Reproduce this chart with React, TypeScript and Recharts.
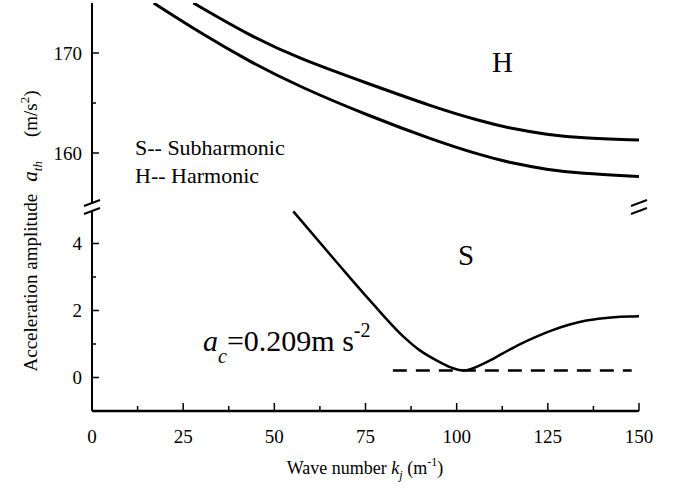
import React from 'react';
import { LineChart, Line, XAxis, YAxis } from 'recharts';

// wave number k (1/m) and acceleration amplitude (m/s^2)
const harmonicLowerK = [16.9, 29.7, 43.4, 57.1, 75.3, 93.6, 106.4, 115.5, 124.7, 133.8, 150];
const harmonicLowerA = [175, 172.0, 169.1, 166.6, 163.8, 161.3, 159.8, 158.95, 158.35, 157.95, 157.65];

const harmonicUpperK = [27.8, 43.4, 57.1, 75.3, 93.6, 106.4, 115.5, 124.7, 133.8, 150];
const harmonicUpperA = [175, 171.7, 169.4, 167.0, 164.6, 163.2, 162.4, 161.85, 161.5, 161.3];

const subK = [55.2, 67.1, 76.2, 85.4, 89.9, 94.5, 98.2, 101.8, 108.2, 112.8, 117.3, 121.9, 126.5, 131, 135.6, 140.2, 147.1, 150];
const subA = [4.96, 3.44, 2.3, 1.22, 0.81, 0.51, 0.31, 0.209, 0.46, 0.73, 0.99, 1.22, 1.42, 1.58, 1.7, 1.77, 1.82, 1.83];

const criticalK = [82.5, 148];
const criticalA = [0.209, 0.209];

const kTicks = [0, 12.5, 25, 37.5, 50, 62.5, 75, 87.5, 100, 112.5, 125, 137.5, 150];
const upperTicks = [160, 165, 170];
const lowerTicks = [0, 1, 2, 3, 4];

const toRows = (ks: number[], vs: number[]) => ks.map((k, i) => ({ k, v: vs[i] }));

const FONT = '"Liberation Serif", "Times New Roman", serif';
const TICK_FS = 19;

const XBottomTick = (props: any) => {
  const { x, y, payload } = props;
  const axisY = y - 2;
  const major = payload.value % 25 === 0;
  return (
    <g>
      <line x1={x} x2={x} y1={axisY} y2={axisY - (major ? 8 : 5)} stroke="#000" strokeWidth={1.5} />
      {major && (
        <text x={x} y={axisY + 32} textAnchor="middle" fontSize={TICK_FS} style={{ fontFamily: FONT }} fill="#000">
          {payload.value}
        </text>
      )}
    </g>
  );
};

const XTopTick = (props: any) => {
  const { x, y, payload } = props;
  const major = payload.value % 25 === 0;
  return <line x1={x} x2={x} y1={y} y2={y + (major ? 8 : 5)} stroke="#000" strokeWidth={1.5} />;
};

const makeLeftTick = (labelled: number[]) => (props: any) => {
  const { x, y, payload } = props;
  const axisX = x + 9;
  const major = labelled.includes(payload.value);
  return (
    <g>
      <line x1={axisX} x2={axisX + (major ? 7 : 4)} y1={y} y2={y} stroke="#000" strokeWidth={1.5} />
      {major && (
        <text x={axisX - 10} y={y} dy="0.35em" textAnchor="end" fontSize={TICK_FS} style={{ fontFamily: FONT }} fill="#000">
          {payload.value}
        </text>
      )}
    </g>
  );
};

const makeRightTick = (labelled: number[]) => (props: any) => {
  const { x, y, payload } = props;
  const major = labelled.includes(payload.value);
  return <line x1={x} x2={x - (major ? 7 : 4)} y1={y} y2={y} stroke="#000" strokeWidth={1.5} />;
};

const UpperLeftTick = makeLeftTick([160, 170]);
const UpperRightTick = makeRightTick([160, 170]);
const LowerLeftTick = makeLeftTick([0, 2, 4]);
const LowerRightTick = makeRightTick([0, 2, 4]);

const axisStyle = { stroke: '#000', strokeWidth: 2 };

const BreakMark = ({ x, y }: { x: number; y: number }) => (
  <line x1={x - 8} y1={y + 3} x2={x + 8} y2={y - 3} stroke="#000" strokeWidth={2} />
);

export default function App() {
  return (
    <div style={{ position: 'absolute', left: 0, top: 0, width: 681, height: 491, background: '#fff' }}>
      <div style={{ position: 'absolute', left: 0, top: 0 }}>
        <LineChart width={681} height={206} margin={{ top: 3, right: 42, bottom: 3, left: 0 }}>
          <XAxis
            xAxisId="k"
            type="number"
            dataKey="k"
            orientation="top"
            domain={[0, 150]}
            ticks={kTicks}
            interval={0}
            height={0}
            tickSize={0}
            tickMargin={0}
            tickLine={false}
            axisLine={{ stroke: '#000', strokeWidth: 2.5 }}
            tick={<XTopTick />}
          />
          <YAxis
            yAxisId="l"
            type="number"
            domain={[155, 175]}
            ticks={upperTicks}
            interval={0}
            width={92}
            tickSize={0}
            tickMargin={9}
            tickLine={false}
            allowDataOverflow
            axisLine={axisStyle}
            tick={<UpperLeftTick />}
          />
          <YAxis
            yAxisId="r"
            orientation="right"
            type="number"
            domain={[155, 175]}
            ticks={upperTicks}
            interval={0}
            width={0}
            tickSize={0}
            tickMargin={0}
            tickLine={false}
            allowDataOverflow
            axisLine={axisStyle}
            tick={<UpperRightTick />}
          />
          <Line xAxisId="k" yAxisId="l" data={toRows(harmonicLowerK, harmonicLowerA)} dataKey="v" type="basis"
            stroke="#000" strokeWidth={3} dot={false} isAnimationActive={false} />
          <Line xAxisId="k" yAxisId="l" data={toRows(harmonicUpperK, harmonicUpperA)} dataKey="v" type="basis"
            stroke="#000" strokeWidth={3} dot={false} isAnimationActive={false} />
        </LineChart>
      </div>

      <div style={{ position: 'absolute', left: 0, top: 206 }}>
        <LineChart width={681} height={285} margin={{ top: 4, right: 42, bottom: 0, left: 0 }}>
          <XAxis
            xAxisId="k"
            type="number"
            dataKey="k"
            domain={[0, 150]}
            ticks={kTicks}
            interval={0}
            height={80}
            tickSize={0}
            tickMargin={2}
            tickLine={false}
            axisLine={{ stroke: '#000', strokeWidth: 2.5 }}
            tick={<XBottomTick />}
          />
          <YAxis
            yAxisId="l"
            type="number"
            domain={[-1, 5]}
            ticks={lowerTicks}
            interval={0}
            width={92}
            tickSize={0}
            tickMargin={9}
            tickLine={false}
            allowDataOverflow
            axisLine={axisStyle}
            tick={<LowerLeftTick />}
          />
          <YAxis
            yAxisId="r"
            orientation="right"
            type="number"
            domain={[-1, 5]}
            ticks={lowerTicks}
            interval={0}
            width={0}
            tickSize={0}
            tickMargin={0}
            tickLine={false}
            allowDataOverflow
            axisLine={axisStyle}
            tick={<LowerRightTick />}
          />
          <Line xAxisId="k" yAxisId="l" data={toRows(subK, subA)} dataKey="v" type="monotone"
            stroke="#000" strokeWidth={2.5} dot={false} isAnimationActive={false} />
          <Line xAxisId="k" yAxisId="l" data={toRows(criticalK, criticalA)} dataKey="v" type="linear"
            stroke="#000" strokeWidth={2.5} strokeDasharray="14 9" dot={false} isAnimationActive={false} />
        </LineChart>
      </div>

      {/* titles, annotations and the axis break marks */}
      <svg width={681} height={491} style={{ position: 'absolute', left: 0, top: 0, pointerEvents: 'none', fontFamily: FONT }}
        fill="#000">
        <BreakMark x={92} y={203} />
        <BreakMark x={92} y={211} />
        <BreakMark x={639} y={203} />
        <BreakMark x={639} y={211} />

        <text transform="translate(37, 231) rotate(-90)" textAnchor="middle" fontSize={19}>
          <tspan>Acceleration amplitude</tspan>
          <tspan dx={12} fontStyle="italic" fontSize={21}>a</tspan>
          <tspan dy={5} fontStyle="italic" fontSize={13}>th</tspan>
          <tspan dy={-5} dx={24}>(m/s</tspan>
          <tspan dy={-8} fontSize={13}>2</tspan>
          <tspan dy={8}>)</tspan>
        </text>

        <text x={365} y={474} textAnchor="middle" fontSize={18}>
          <tspan>Wave number </tspan>
          <tspan fontStyle="italic">k</tspan>
          <tspan dy={5} fontStyle="italic" fontSize={12}>j</tspan>
          <tspan dy={-5}> (m</tspan>
          <tspan dy={-8} fontSize={12}>-1</tspan>
          <tspan dy={8}>)</tspan>
        </text>

        <text x={492} y={72} fontSize={29}>H</text>
        <text x={458} y={265} fontSize={29}>S</text>
        <text x={135} y={155} fontSize={22}>S-- Subharmonic</text>
        <text x={135} y={183} fontSize={22}>H-- Harmonic</text>

        <text x={203} y={351} fontSize={30}>
          <tspan fontStyle="italic">a</tspan>
          <tspan dy={12} fontStyle="italic" fontSize={20}>c</tspan>
          <tspan dy={-12}>=0.209m s</tspan>
          <tspan dy={-14} fontSize={20}>-2</tspan>
        </text>
      </svg>
    </div>
  );
}
